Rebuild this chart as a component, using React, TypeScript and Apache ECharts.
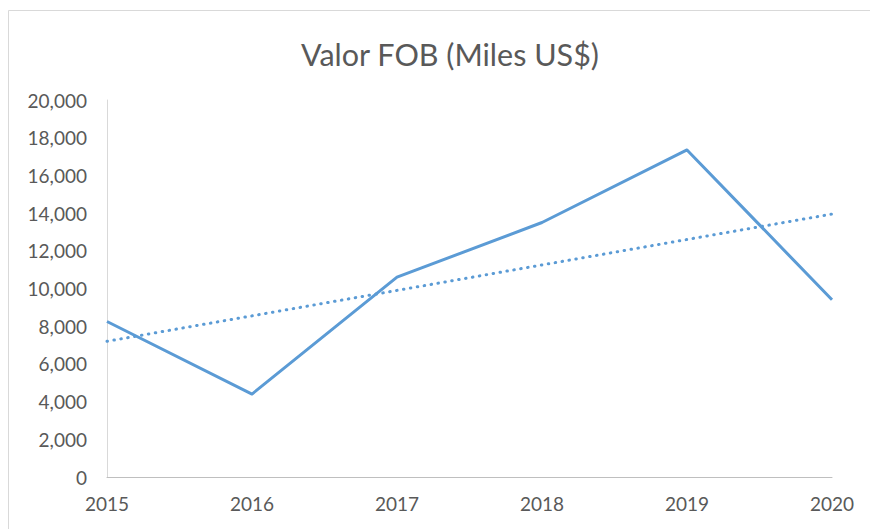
import React, { useEffect, useRef } from "react";
import * as echarts from "echarts";

const years = ["2015", "2016", "2017", "2018", "2019", "2020"];
const fobValues = [8250, 4400, 10600, 13500, 17350, 9400];
// Linear trendline endpoints
const trendValues = [7200, null, null, null, null, 13950];
const yTicks = { min: 0, max: 20000, interval: 2000 };

export default function App() {
  const ref = useRef<HTMLDivElement>(null);
  useEffect(() => {
    if (!ref.current) return;
    const chart = echarts.init(ref.current, null, { renderer: "svg" });
    const font = "Lato, 'Open Sans', sans-serif";
    chart.setOption({
      animation: false,
      backgroundColor: "#ffffff",
      title: {
        text: "Valor FOB (Miles US$)",
        left: 296,
        top: 33,
        textStyle: { fontFamily: font, fontSize: 30.5, fontWeight: "normal", color: "#595959" },
      },
      graphic: [
        {
          type: "rect",
          shape: { x: 8.5, y: 10.5, width: 880, height: 540 },
          style: { fill: "none", stroke: "#d9d9d9", lineWidth: 1 },
          silent: true,
        },
      ],
      grid: { left: 107, right: 38, top: 100, bottom: 52 },
      xAxis: {
        type: "category",
        data: years,
        boundaryGap: false,
        axisLine: { show: true, lineStyle: { color: "#bfbfbf", width: 1 } },
        axisTick: { show: false },
        axisLabel: { fontFamily: font, fontSize: 19, color: "#595959", margin: 17 },
        splitLine: { show: false },
      },
      yAxis: {
        type: "value",
        min: yTicks.min,
        max: yTicks.max,
        interval: yTicks.interval,
        axisLine: { show: true, lineStyle: { color: "#d9d9d9", width: 1 } },
        axisTick: { show: false },
        splitLine: { show: false },
        axisLabel: {
          fontFamily: font,
          fontSize: 19,
          color: "#595959",
          margin: 20,
          formatter: (v: number) => v.toLocaleString("en-US"),
        },
      },
      series: [
        {
          type: "line",
          data: fobValues,
          symbol: "none",
          lineStyle: { color: "#5B9BD5", width: 3, join: "round" },
          z: 3,
        },
        {
          type: "line",
          data: trendValues,
          connectNulls: true,
          symbol: "none",
          lineStyle: { color: "#5B9BD5", width: 3, type: [0.5, 6.5], cap: "round" },
          z: 2,
        },
      ],
    });
    return () => chart.dispose();
  }, []);
  return (
    <div
      ref={ref}
      style={{ position: "fixed", left: 0, top: 0, width: 870, height: 529 }}
    />
  );
}
